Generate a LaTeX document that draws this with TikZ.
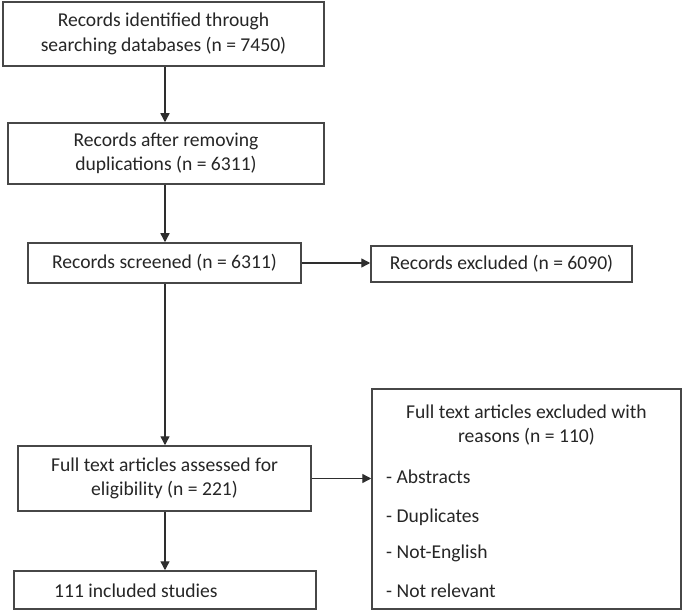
\documentclass[tikz,border=0pt]{standalone}
\usepackage{fontspec}
\setmainfont{Carlito}
\usetikzlibrary{arrows.meta}
\newcommand\diagfs{\fontsize{19.6pt}{24.4pt}\selectfont}
\begin{document}
\begin{tikzpicture}[x=1pt,y=-1pt,
  box/.style={draw=black!72, line width=1.5pt, rectangle, inner sep=0pt, align=center, font=\diagfs, text=black!85},
  arr/.style={draw=black!82, line width=1.4pt, -{Triangle[length=9pt,width=9pt]}},
  lbl/.style={inner sep=0pt, font=\diagfs, text=black!85}]
\useasboundingbox (0,0) rectangle (683,612);
\fill[white] (0,0) rectangle (683,612);
\coordinate (spine) at (165,0);
\node[box, minimum width=321pt, minimum height=64pt] (b1) at (163.5,34) {Records identified through\\searching databases (n = 7450)};
\node[box, minimum width=316pt, minimum height=61pt] (b2) at (166,153.5) {Records after removing\\duplications (n = 6311)};
\node[box, minimum width=273pt, minimum height=40pt] (b3) at (164.5,263) {Records screened (n = 6311)};
\node[box, minimum width=261pt, minimum height=36pt] (b4) at (501.5,264) {Records excluded (n = 6090)};
\node[box, minimum width=293pt, minimum height=65pt] (b5) at (164.5,478.5) {Full text articles assessed for\\eligibility (n = 221)};
\node[box, minimum width=309pt, minimum height=220pt] (b6) at (526.5,499) {};
\node[box, minimum width=302pt, minimum height=38pt] (b7) at (165,590) {};
\node[lbl, align=center] (h6) at (526.5,425) {Full text articles excluded with\\reasons (n = 110)};
\node[lbl, anchor=base west] (r1) at (386,483) {- Abstracts};
\node[lbl, anchor=base west] (r2) at (386,522) {- Duplicates};
\node[lbl, anchor=base west] (r3) at (386,558) {- Not-English};
\node[lbl, anchor=base west] (r4) at (386,597) {- Not relevant};
\node[lbl, anchor=base west] (t7) at (54,597) {111 included studies};
\draw[arr] (b1.south -| spine) -- (b2.north -| spine);
\draw[arr] (b2.south -| spine) -- (b3.north -| spine);
\draw[arr] (b3.south -| spine) -- (b5.north -| spine);
\draw[arr] (b5.south -| spine) -- (b7.north -| spine);
\draw[arr] (b3.east) -- (b3.east -| b4.west);
\draw[arr] (b5.east) -- (b5.east -| b6.west);
\end{tikzpicture}
\end{document}
